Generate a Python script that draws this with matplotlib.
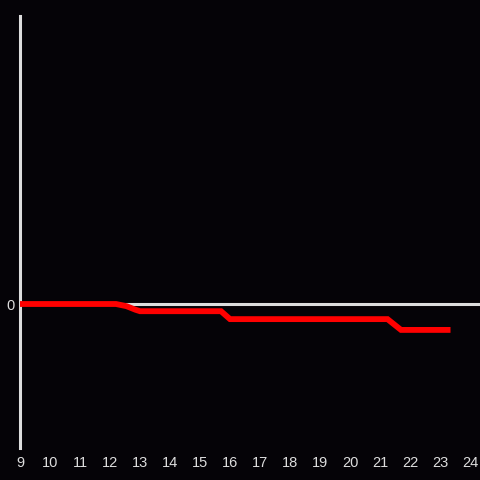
import matplotlib
matplotlib.use("Agg")
import matplotlib.pyplot as plt

# hours of day and the value of the red series
hours = [9, 12.2, 12.55, 12.85, 13.0, 15.7, 16.0, 21.25, 21.7, 23.35]
values = [0, 0, -0.15, -0.4, -0.5, -0.5, -1.05, -1.05, -1.8, -1.8]
xticks = list(range(9, 25))

BG = "#050307"
FG = "#dddddd"

plt.rcParams["font.family"] = ["Liberation Sans", "DejaVu Sans"]

fig = plt.figure(figsize=(4.8, 4.8), dpi=100, facecolor=BG)
ax = fig.add_axes([20 / 480, 32 / 480, 460 / 480, 432 / 480], facecolor=BG)

ax.axhline(0, color=FG, linewidth=2.2, zorder=1)
ax.plot(hours, values, color="#ff0000", linewidth=4.2,
        solid_capstyle="butt", solid_joinstyle="miter", zorder=3)

ax.set_xlim(9, 24.333)
ax.set_ylim(-10, 20)
ax.set_xticks(xticks)
ax.set_xticklabels([str(t) for t in xticks])
ax.set_yticks([0])
ax.set_yticklabels(["0"])

for side in ["top", "right", "bottom"]:
    ax.spines[side].set_visible(False)
ax.spines["left"].set_color(FG)
ax.spines["left"].set_linewidth(2.2)
ax.tick_params(axis="both", length=0, colors=FG, labelsize=10.5)
ax.tick_params(axis="x", pad=6)
ax.tick_params(axis="y", pad=4)

fig.savefig("out.png", dpi=100, facecolor=BG)
